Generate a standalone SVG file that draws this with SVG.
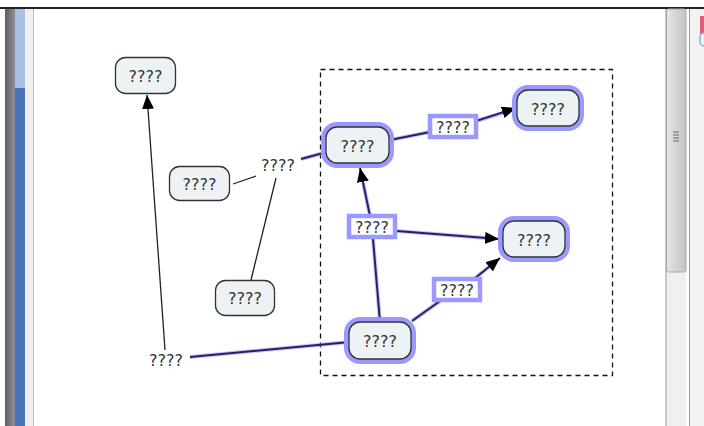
<svg xmlns="http://www.w3.org/2000/svg" width="704" height="426" viewBox="0 0 704 426">
<style>
.t{font-family:"DejaVu Sans","Liberation Sans",sans-serif;font-size:16px;fill:#333;text-anchor:middle;dominant-baseline:central}
.n{fill:#edf3f5;stroke:#333;stroke-width:1.3}
.h{fill:none;stroke:#9999ff;stroke-width:10}
.el{fill:#fff;stroke:#9999ff;stroke-width:4.5}
.k{fill:none;stroke:#222;stroke-width:1.3}
.g{fill:none;stroke:#9999ff;stroke-width:4;stroke-opacity:0.6}
.b{fill:none;stroke:#23235e;stroke-width:2}
</style>
<defs>
<marker id="ar" viewBox="0 0 14 12" refX="14" refY="6" markerWidth="14" markerHeight="12" markerUnits="userSpaceOnUse" orient="auto">
<path d="M0,0 L14,6 L0,12 Z" fill="#000"/>
</marker>
<linearGradient id="lg" x1="0" x2="1" y1="0" y2="0">
<stop offset="0" stop-color="#5a5e63"/><stop offset="1" stop-color="#8f9398"/>
</linearGradient>
<linearGradient id="sb" x1="0" x2="1" y1="0" y2="0">
<stop offset="0" stop-color="#e8e8e8"/><stop offset="0.5" stop-color="#d4d4d4"/><stop offset="1" stop-color="#c4c4c4"/>
</linearGradient>
</defs>
<rect width="704" height="426" fill="#fff"/>
<g id="chrome">
<rect x="5" y="8" width="10" height="418" fill="url(#lg)"/>
<rect x="15" y="8" width="10" height="418" fill="#4a74b8"/>
<rect x="15" y="8" width="10" height="80" fill="#a9c0e2"/>
<rect x="25" y="8" width="8" height="418" fill="#efefef"/>
<line x1="33.5" y1="8" x2="33.5" y2="426" stroke="#bbb"/>
<line x1="0" y1="8" x2="704" y2="8" stroke="#222" stroke-width="2"/>
<rect x="666" y="9" width="20" height="417" fill="#f0f0f0"/>
<rect x="666.5" y="9" width="19.5" height="263" rx="2" fill="url(#sb)" stroke="#aaa"/>
<g stroke="#666" stroke-width="1"><line x1="673" y1="132" x2="679" y2="132"/><line x1="673" y1="135" x2="679" y2="135"/><line x1="673" y1="138" x2="679" y2="138"/><line x1="673" y1="141" x2="679" y2="141"/></g>
<line x1="666" y1="9" x2="666" y2="426" stroke="#999"/>
<line x1="689.5" y1="9" x2="689.5" y2="426" stroke="#999"/>
<rect x="690" y="9" width="14" height="417" fill="#f2f2f2"/>
<rect x="700" y="16" width="4" height="18" fill="#e05a7a"/>
<rect x="700" y="33" width="8" height="13" rx="4" fill="none" stroke="#8ab4e6" stroke-width="1.5"/>
</g>
<rect id="group" x="320.5" y="69.5" width="292" height="306" fill="none" stroke="#111" stroke-width="1.3" stroke-dasharray="5,4"/>
<g id="connectors">
<line class="k" x1="165" y1="350" x2="147" y2="95" marker-end="url(#ar)"/>
<line class="g" x1="190" y1="357" x2="350" y2="342"/>
<line class="b" x1="190" y1="357" x2="350" y2="342"/>
<line class="k" x1="233" y1="184" x2="256" y2="176"/>
<line class="g" x1="301" y1="159" x2="327" y2="152"/>
<line class="b" x1="301" y1="159" x2="327" y2="152"/>
<line class="k" x1="276" y1="178" x2="251" y2="280"/>
<path class="g" d="M390,140 L430,132 M476,121 L503,113"/>
<path class="b" d="M390,140 L430,132 M476,121 L516,108" marker-end="url(#ar)"/>
<path class="g" d="M380,322 L373,239 M370,216 L363,182"/>
<path class="b" d="M380,322 L373,239 M370,216 L360,168" marker-end="url(#ar)"/>
<path class="g" d="M397,231 L486,238"/>
<path class="b" d="M397,231 L499,239" marker-end="url(#ar)"/>
<path class="g" d="M412,321 L440,301 M474,279 L490,266"/>
<path class="b" d="M412,321 L440,301 M474,279 L500,258" marker-end="url(#ar)"/>
</g>
<g id="n1"><rect class="n" x="115.5" y="57.5" width="60" height="36" rx="10"/><text class="t" x="145.5" y="76">????</text></g>
<g id="n2"><rect class="n" x="169.5" y="166.5" width="60" height="34" rx="10"/><text class="t" x="199.5" y="184">????</text></g>
<g id="n3"><rect class="n" x="215.5" y="280.5" width="59" height="35" rx="10"/><text class="t" x="245" y="298.5">????</text></g>
<g id="l1"><text class="t" x="278" y="165">????</text></g>
<g id="l2"><text class="t" x="166" y="360">????</text></g>
<g id="nA"><rect class="h" x="326" y="127" width="63" height="36" rx="11"/><rect class="n" x="326" y="127" width="63" height="36" rx="11"/><text class="t" x="357.5" y="146">????</text></g>
<g id="nB"><rect class="h" x="517" y="90" width="62" height="36" rx="11"/><rect class="n" x="517" y="90" width="62" height="36" rx="11"/><text class="t" x="548" y="109">????</text></g>
<g id="nC"><rect class="h" x="503" y="221" width="62" height="36" rx="11"/><rect class="n" x="503" y="221" width="62" height="36" rx="11"/><text class="t" x="534" y="240">????</text></g>
<g id="nD"><rect class="h" x="349" y="322" width="62" height="37" rx="11"/><rect class="n" x="349" y="322" width="62" height="37" rx="11"/><text class="t" x="380" y="341">????</text></g>
<g id="e1"><rect class="el" x="430" y="116" width="46" height="21"/><text class="t" x="453" y="127">????</text></g>
<g id="e2"><rect class="el" x="349" y="216" width="46" height="21"/><text class="t" x="372" y="227">????</text></g>
<g id="e3"><rect class="el" x="434" y="279" width="46" height="21"/><text class="t" x="457" y="290">????</text></g>
</svg>
